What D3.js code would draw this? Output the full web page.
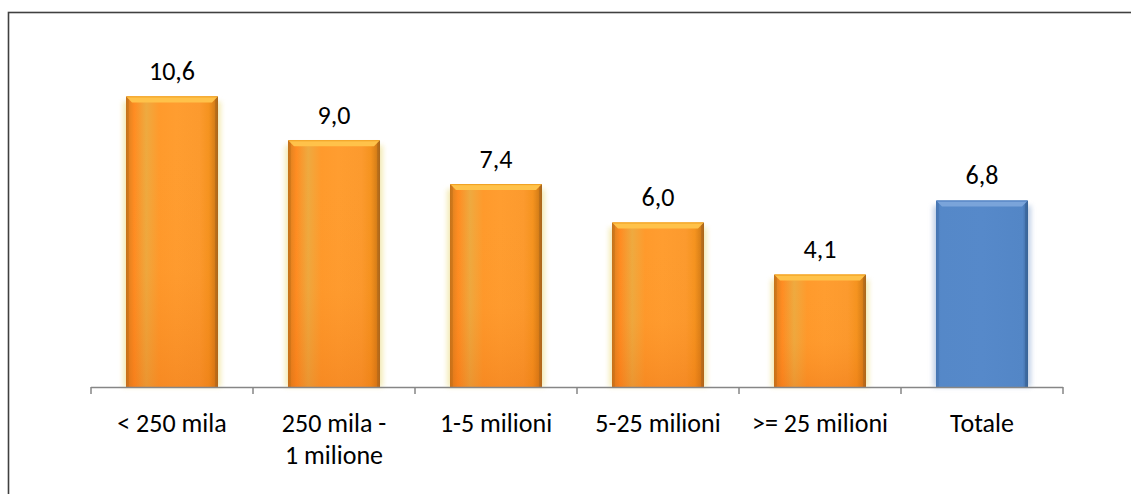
<!DOCTYPE html>
<html>
<head>
<meta charset="utf-8">
<script src="https://cdn.jsdelivr.net/npm/d3@7"></script>
<style>
  html, body { margin: 0; padding: 0; background: #fff; }
  svg { display: block; }
  text { font-family: Carlito, Calibri, Lato, "Open Sans", sans-serif; fill: #000; }
</style>
</head>
<body>
<script>
// Categories (multi-line labels split on "\n") and their values
const categories = ["< 250 mila", "250 mila -\n1 milione", "1-5 milioni", "5-25 milioni", ">= 25 milioni", "Totale"];
const values = [10.6, 9.0, 7.4, 6.0, 4.1, 6.8];
const valueLabels = ["10,6", "9,0", "7,4", "6,0", "4,1", "6,8"];
const totalCategory = "Totale";

const W = 1131, H = 494;
const svg = d3.select("body").append("svg").attr("width", W).attr("height", H);

// Outer chart frame
svg.append("rect")
  .attr("x", 8.5).attr("y", 12.5)
  .attr("width", 1300).attr("height", 700)
  .attr("fill", "none").attr("stroke", "#404040").attr("stroke-width", 1.6);

const plot = { left: 91, right: 1063, top: 58, bottom: 387 };

const x = d3.scaleBand()
  .domain(categories)
  .range([plot.left, plot.right])
  .paddingInner(0.432)
  .paddingOuter(0.216);

const y = d3.scaleLinear().domain([0, 12]).range([plot.bottom, plot.top]);

const defs = svg.append("defs");

// Orange bar: horizontal streaky gradient with darker edges
const og = defs.append("linearGradient").attr("id", "orangeH").attr("x1", 0).attr("x2", 1).attr("y1", 0).attr("y2", 0);
[["0%", "#c9761c"], ["4%", "#e98520"], ["9%", "#ff8c22"], ["15%", "#f79a30"], ["22%", "#eeaa40"], ["29%", "#f7a236"],
 ["36%", "#ff9a2c"], ["55%", "#ff9d30"], ["80%", "#fc9a2e"], ["90%", "#f5931f"], ["96%", "#d98018"], ["100%", "#a8661c"]]
  .forEach(([o, c]) => og.append("stop").attr("offset", o).attr("stop-color", c));

// Warm darkening towards the bottom of the orange bars
const ov = defs.append("linearGradient").attr("id", "orangeV").attr("x1", 0).attr("x2", 0).attr("y1", 0).attr("y2", 1);
[["0%", "#ffb030", 0.0], ["60%", "#f07010", 0.05], ["100%", "#e0600a", 0.28]]
  .forEach(([o, c, a]) => ov.append("stop").attr("offset", o).attr("stop-color", c).attr("stop-opacity", a));

// Blue bar gradient
const bg = defs.append("linearGradient").attr("id", "blueH").attr("x1", 0).attr("x2", 1).attr("y1", 0).attr("y2", 0);
[["0%", "#4a7ab8"], ["5%", "#5588c8"], ["50%", "#5689ca"], ["94%", "#5386c6"], ["100%", "#3c679f"]]
  .forEach(([o, c]) => bg.append("stop").attr("offset", o).attr("stop-color", c));

// Soft halo around the bars
const halo = defs.append("filter").attr("id", "halo").attr("x", "-20%").attr("y", "-10%").attr("width", "140%").attr("height", "120%");
halo.append("feGaussianBlur").attr("stdDeviation", 2.5);

const bw = x.bandwidth();
const bars = svg.append("g").selectAll("g").data(categories).join("g");

bars.each(function (c, i) {
  const g = d3.select(this);
  const isTotal = c === totalCategory;
  const x0 = x(c), yTop = y(values[i]), h = y(0) - yTop;

  // halo
  g.append("rect")
    .attr("x", x0 - 3).attr("y", yTop + 5).attr("width", bw + 6).attr("height", h - 5)
    .attr("fill", isTotal ? "#9ab4d8" : "#eedf8a").attr("opacity", 0.6)
    .attr("filter", "url(#halo)");

  // body
  g.append("rect")
    .attr("x", x0).attr("y", yTop).attr("width", bw).attr("height", h)
    .attr("fill", isTotal ? "url(#blueH)" : "url(#orangeH)");
  if (!isTotal) {
    g.append("rect")
      .attr("x", x0).attr("y", yTop).attr("width", bw).attr("height", h)
      .attr("fill", "url(#orangeV)");
  }

  // top bevel
  const bev = 6;
  g.append("path")
    .attr("d", `M${x0},${yTop} L${x0 + bw},${yTop} L${x0 + bw - bev},${yTop + bev} L${x0 + bev},${yTop + bev} Z`)
    .attr("fill", isTotal ? "#7aa4da" : "#ffc24a");
  g.append("line")
    .attr("x1", x0 + 1).attr("x2", x0 + bw - 1).attr("y1", yTop + 0.5).attr("y2", yTop + 0.5)
    .attr("stroke", isTotal ? "#4f7fbf" : "#f0a020").attr("stroke-width", 1);
  // right bevel shading
  g.append("path")
    .attr("d", `M${x0 + bw},${yTop} L${x0 + bw},${y(0)} L${x0 + bw - 3},${y(0)} L${x0 + bw - 3},${yTop + 3} Z`)
    .attr("fill", isTotal ? "#35608f" : "#a8661c").attr("opacity", 0.45);
  // left bevel shading
  g.append("path")
    .attr("d", `M${x0},${yTop} L${x0 + 3},${yTop + 3} L${x0 + 3},${y(0)} L${x0},${y(0)} Z`)
    .attr("fill", isTotal ? "#3f6ca6" : "#b86c1a").attr("opacity", 0.35);

  // value label
  g.append("text")
    .attr("x", x0 + bw / 2).attr("y", yTop - 16.5)
    .attr("text-anchor", "middle").attr("font-size", 26)
    .text(valueLabels[i]);
});

// Category axis: baseline, boundary ticks and labels
const axis = svg.append("g");
const step = x.step();
const gap = (step - bw) / 2;
axis.append("line")
  .attr("x1", plot.left).attr("x2", plot.right)
  .attr("y1", plot.bottom + 0.5).attr("y2", plot.bottom + 0.5)
  .attr("stroke", "#868686").attr("stroke-width", 1.5);

const bounds = categories.map(c => x(c) - gap).concat([plot.right]);
axis.selectAll("line.tick").data(bounds).join("line")
  .attr("class", "tick")
  .attr("x1", d => d).attr("x2", d => d)
  .attr("y1", plot.bottom).attr("y2", plot.bottom + 7)
  .attr("stroke", "#868686").attr("stroke-width", 1.5);

axis.selectAll("text.cat").data(categories).join("text")
  .attr("class", "cat")
  .attr("text-anchor", "middle")
  .attr("font-size", 26)
  .attr("x", c => x(c) + bw / 2)
  .attr("y", 432)
  .each(function (c) {
    const t = d3.select(this);
    c.split("\n").forEach((line, k) => {
      t.append("tspan").attr("x", x(c) + bw / 2).attr("dy", k === 0 ? 0 : 32).text(line);
    });
  });
</script>
</body>
</html>
